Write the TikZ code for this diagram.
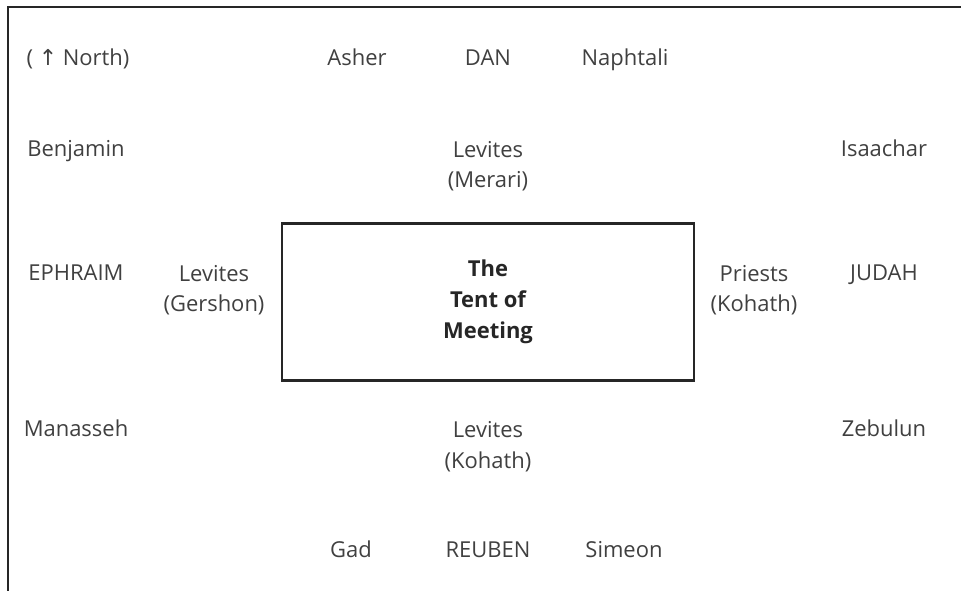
\documentclass[tikz,border=0pt]{standalone}
\usepackage{fontspec}
\setmainfont{Open Sans}
\newfontfamily\arrowfont{DejaVu Sans}
\begin{document}
\begin{tikzpicture}
  [x=0.02cm,y=-0.02cm,
   font=\fontsize{12.5}{17.5}\selectfont,
   inner sep=0pt,
   tribe/.style={text=black!75,anchor=base,align=center},
   tent/.style={draw=black!85,line width=1.4pt,minimum width=8.24cm,minimum height=3.14cm,
                font=\fontsize{12.5}{17.5}\selectfont\bfseries,text=black!85,align=center}]
  \useasboundingbox (0,0) rectangle (961,591);
  \draw [line width=1.6pt,black!85] (8,591) -- (8,7) -- (961,7);
  % top row
  \node at (78,66)  (north) [tribe] {( {\arrowfont\char"2191} North)};
  \node at (357,66) (asher) [tribe] {Asher};
  \node at (488,66) (dan)   [tribe] {DAN};
  \node at (625,66) (naph)  [tribe] {Naphtali};
  % second row
  \node at (76,157)  (benj)   [tribe] {Benjamin};
  \node at (488,188) (merari) [tribe] {Levites\\(Merari)};
  \node at (884,157) (issa)   [tribe] {Isaachar};
  % middle row
  \node at (76,281)  (ephr)    [tribe] {EPHRAIM};
  \node at (214,312) (gershon) [tribe] {Levites\\(Gershon)};
  \node at (488,302) (tent)    [tent]  {The\\Tent of\\Meeting};
  \node at (754,312) (priests) [tribe] {Priests\\(Kohath)};
  \node at (884,281) (judah)   [tribe] {JUDAH};
  % fourth row
  \node at (76,437)  (mana)   [tribe] {Manasseh};
  \node at (488,468) (kohath) [tribe] {Levites\\(Kohath)};
  \node at (884,437) (zeb)    [tribe] {Zebulun};
  % bottom row
  \node at (351,557) (gad)    [tribe] {Gad};
  \node at (488,557) (reuben) [tribe] {REUBEN};
  \node at (624,557) (simeon) [tribe] {Simeon};
\end{tikzpicture}
\end{document}
